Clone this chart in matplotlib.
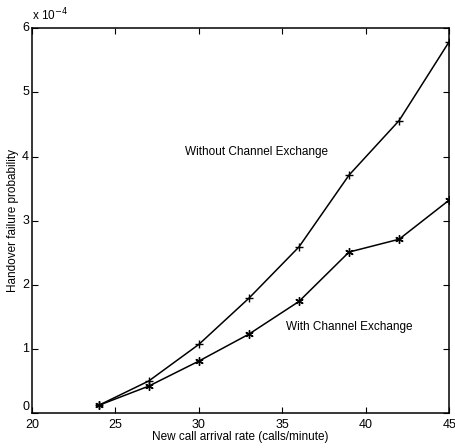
import matplotlib.pyplot as plt

plt.rcParams['font.family'] = ['Liberation Sans', 'DejaVu Sans']

# arrival rate (calls/minute) and handover failure probability (x 1e-4)
rate = [24, 27, 30, 33, 36, 39, 42, 45]
without_exchange = [0.12, 0.50, 1.07, 1.79, 2.59, 3.71, 4.56, 5.79]
with_exchange = [0.12, 0.42, 0.81, 1.23, 1.74, 2.51, 2.71, 3.32]

fig = plt.figure(figsize=(4.56, 4.48), dpi=100)
ax = fig.add_axes([0.070, 0.078, 0.915, 0.859])

ax.plot(rate, without_exchange, color='black', lw=1.1, marker='+', ms=6, mew=1.0)
ax.plot(rate, with_exchange, color='black', lw=1.1, marker=(6, 2, 0), ms=6, mew=1.0)

ax.set_xlim(20, 45)
ax.set_ylim(0, 6)
ax.set_xticks([20, 25, 30, 35, 40, 45])
ax.set_yticks([0, 1, 2, 3, 4, 5, 6])
ax.tick_params(direction='in', top=True, right=True, labelsize=9, length=4)
ax.tick_params(axis='x', pad=4)
ax.tick_params(axis='y', pad=2)
for lbl in ax.get_yticklabels():
    lbl.set_verticalalignment('bottom' if lbl.get_text() == '0' else 'center')
for s in ax.spines.values():
    s.set_linewidth(1.1)

ax.set_xlabel('New call arrival rate (calls/minute)', fontsize=8.5, labelpad=0)
ax.set_ylabel('Handover failure probability', fontsize=8.5, labelpad=2)
ax.text(0.0, 1.012, r'x 10$^{-4}$', transform=ax.transAxes, fontsize=8.5, va='bottom')

ax.text(29.2, 4.07, 'Without Channel Exchange', fontsize=8.5, va='center')
ax.text(35.2, 1.34, 'With Channel Exchange', fontsize=8.5, va='center')

fig.savefig('out.png', dpi=100)
